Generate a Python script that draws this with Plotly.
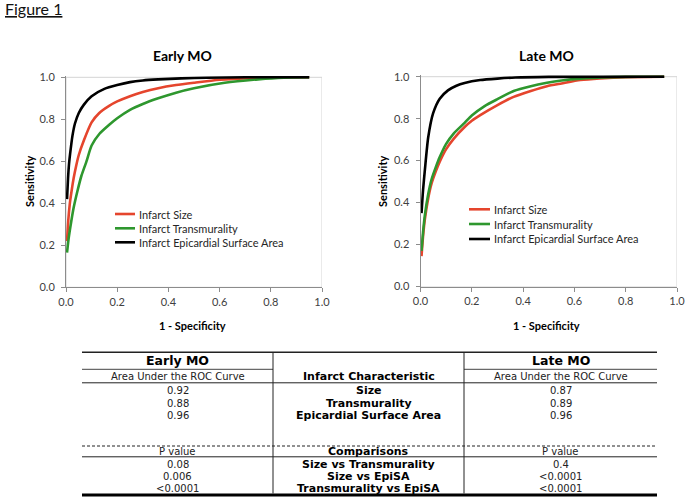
import plotly.graph_objects as go

W, H = 685, 499

# ---------------- data ----------------
series_names = ["Infarct Size", "Infarct Transmurality", "Infarct Epicardial Surface Area"]
series_colors = ["#E5452D", "#2E972E", "#000000"]

early_size_fpr = [0.004, 0.009, 0.015, 0.022, 0.03, 0.04, 0.05, 0.07, 0.1, 0.13, 0.17, 0.2, 0.25, 0.3, 0.36, 0.43, 0.5, 0.6, 0.75, 0.85, 0.95]
early_size_tpr = [0.22, 0.32, 0.40, 0.46, 0.52, 0.58, 0.63, 0.70, 0.785, 0.83, 0.865, 0.885, 0.91, 0.93, 0.948, 0.963, 0.974, 0.988, 0.997, 1.0, 1.0]

early_trans_fpr = [0.004, 0.01, 0.02, 0.03, 0.045, 0.06, 0.08, 0.1, 0.13, 0.17, 0.2, 0.25, 0.3, 0.36, 0.43, 0.5, 0.62, 0.75, 0.85, 0.95]
early_trans_tpr = [0.165, 0.23, 0.31, 0.38, 0.46, 0.53, 0.6, 0.675, 0.73, 0.775, 0.805, 0.845, 0.873, 0.90, 0.927, 0.948, 0.974, 0.99, 0.998, 1.0]

early_epi_fpr = [0.004, 0.008, 0.012, 0.016, 0.025, 0.035, 0.05, 0.07, 0.1, 0.15, 0.2, 0.25, 0.3, 0.36, 0.45, 0.55, 0.7, 0.95]
early_epi_tpr = [0.42, 0.52, 0.59, 0.635, 0.72, 0.78, 0.83, 0.87, 0.91, 0.945, 0.963, 0.977, 0.985, 0.99, 0.995, 0.998, 1.0, 1.0]

late_size_fpr = [0.004, 0.01, 0.017, 0.03, 0.043, 0.06, 0.075, 0.1, 0.13, 0.172, 0.2, 0.233, 0.3, 0.363, 0.43, 0.493, 0.55, 0.623, 0.7, 0.8, 0.95]
late_size_tpr = [0.145, 0.24, 0.32, 0.42, 0.49, 0.55, 0.595, 0.655, 0.705, 0.76, 0.79, 0.817, 0.865, 0.904, 0.932, 0.955, 0.968, 0.984, 0.992, 0.998, 1.0]

late_trans_fpr = [0.004, 0.01, 0.017, 0.03, 0.043, 0.06, 0.075, 0.1, 0.13, 0.172, 0.2, 0.25, 0.3, 0.363, 0.43, 0.493, 0.55, 0.623, 0.75, 0.85, 0.95]
late_trans_tpr = [0.17, 0.26, 0.34, 0.44, 0.51, 0.57, 0.617, 0.68, 0.73, 0.78, 0.815, 0.86, 0.893, 0.932, 0.955, 0.971, 0.982, 0.991, 0.998, 1.0, 1.0]

late_epi_fpr = [0.004, 0.01, 0.017, 0.03, 0.049, 0.075, 0.107, 0.14, 0.172, 0.233, 0.3, 0.37, 0.5, 0.95]
late_epi_tpr = [0.35, 0.46, 0.555, 0.71, 0.825, 0.895, 0.935, 0.957, 0.97, 0.984, 0.991, 0.996, 0.999, 1.0]

tick_vals = [0.0, 0.2, 0.4, 0.6, 0.8, 1.0]

# table content
table_headers = ["Early MO", "Late MO"]
auc_label = "Area Under the ROC Curve"
char_label = "Infarct Characteristic"
characteristics = ["Size", "Transmurality", "Epicardial Surface Area"]
early_auc = ["0.92", "0.88", "0.96"]
late_auc = ["0.87", "0.89", "0.96"]
p_label = "P value"
comp_label = "Comparisons"
comparisons = ["Size vs Transmurality", "Size vs EpiSA", "Transmurality vs EpiSA"]
early_p = ["0.08", "0.006", "<0.0001"]
late_p = ["0.4", "<0.0001", "<0.0001"]

# ---------------- helpers ----------------
def px(x):
    return x / W

def py(y):
    return 1 - y / H

LAT = "Lato, 'Open Sans', sans-serif"
DV = "'DejaVu Sans', Verdana, sans-serif"

fig = go.Figure()

early = [(early_size_fpr, early_size_tpr), (early_trans_fpr, early_trans_tpr), (early_epi_fpr, early_epi_tpr)]
late = [(late_size_fpr, late_size_tpr), (late_trans_fpr, late_trans_tpr), (late_epi_fpr, late_epi_tpr)]

for (xs, ys), name, col in zip(early, series_names, series_colors):
    fig.add_trace(go.Scatter(x=xs, y=ys, mode="lines", name=name, xaxis="x", yaxis="y",
                             line=dict(color=col, width=2.6, shape="spline", smoothing=0.6),
                             showlegend=False, hoverinfo="skip"))
for (xs, ys), name, col in zip(late, series_names, series_colors):
    fig.add_trace(go.Scatter(x=xs, y=ys, mode="lines", name=name, xaxis="x2", yaxis="y2",
                             line=dict(color=col, width=2.6, shape="spline", smoothing=0.6),
                             showlegend=False, hoverinfo="skip"))

YTOP = 1.008

def axis_common():
    return dict(range=[0, 1], tickvals=tick_vals, tickformat=".1f", showline=True, linecolor="#8c8c8c",
                linewidth=1, ticks="outside", ticklen=4, tickcolor="#8c8c8c", showgrid=False,
                zeroline=False, tickfont=dict(family=LAT, size=11, color="#404040"), fixedrange=True,
                automargin=False, ticklabeloverflow="allow")

# early: y=0 at 287.3px, y=1 at 77.3px ; late: y=0 at 286.5, y=1 at 76.7
e_y0, e_y1 = 287.3, 77.3
l_y0, l_y1 = 286.5, 76.7
e_top = e_y0 - (e_y0 - e_y1) * YTOP
l_top = l_y0 - (l_y0 - l_y1) * YTOP

xa1 = axis_common(); xa1.update(domain=[px(66), px(322)], anchor="y")
ya1 = axis_common(); ya1.update(domain=[py(e_y0), py(e_top)], anchor="x", range=[0, YTOP], ticklabelstandoff=4)
xa2 = axis_common(); xa2.update(domain=[px(420.5), px(677)], anchor="y2")
ya2 = axis_common(); ya2.update(domain=[py(l_y0), py(l_top)], anchor="x2", range=[0, YTOP], ticklabelstandoff=4)

shapes = []
annotations = []

# plot-area borders (light gray), in data coords of each subplot
for xr, yr in [("x", "y"), ("x2", "y2")]:
    shapes.append(dict(type="rect", xref=xr, yref=yr, x0=0, x1=1, y0=0, y1=1,
                       line=dict(color="#d4d4d4", width=1), layer="below"))

# chart titles and axis titles
def ann(x, y, text, size, family=LAT, bold=False, color="#000", xanchor="center", angle=0):
    t = f"<b>{text}</b>" if bold else text
    annotations.append(dict(x=px(x), y=py(y), xref="paper", yref="paper", text=t, showarrow=False,
                            xanchor=xanchor, yanchor="middle", textangle=angle,
                            font=dict(family=family, size=size, color=color)))

ann(3, 8, "<u>Figure 1</u>", 16, xanchor="left", color="#111")
ann(183, 55, "Early MO", 14, bold=True)
ann(546, 55, "Late MO", 14, bold=True)
ann(192, 325, "1 - Specificity", 11, bold=True)
ann(546, 325, "1 - Specificity", 11, bold=True)
ann(30, 182, "Sensitivity", 11, bold=True, angle=-90)
ann(383, 182, "Sensitivity", 11, bold=True, angle=-90)

# legends (line samples + text)
for (lx0, lx1, rows) in [(115, 135, [214, 228.3, 242.3]), (469, 490, [209.3, 224, 239])]:
    for name, col, ry in zip(series_names, series_colors, rows):
        shapes.append(dict(type="line", xref="paper", yref="paper", x0=px(lx0), x1=px(lx1),
                           y0=py(ry), y1=py(ry), line=dict(color=col, width=2.6)))
        ann(lx1 + 2, ry, name, 11, xanchor="left", color="#262626")

# ---------------- table ----------------
TL, TR = 82, 657
V1, V2 = 273, 464
c_left, c_mid, c_right = (TL + V1) / 2, (V1 + V2) / 2, (V2 + TR) / 2

def hline(x0, x1, y, color="#000", width=1, dash=None):
    ln = dict(color=color, width=width)
    if dash:
        ln["dash"] = dash
    shapes.append(dict(type="line", xref="paper", yref="paper", x0=px(x0), x1=px(x1),
                       y0=py(y), y1=py(y), line=ln))

def vline(x, y0, y1, color="#000", width=1):
    shapes.append(dict(type="line", xref="paper", yref="paper", x0=px(x), x1=px(x),
                       y0=py(y0), y1=py(y1), line=dict(color=color, width=width)))

hline(TL, TR, 352.3, color="#222", width=1.5)
hline(TL, V1, 369.3, color="#444", width=1)
hline(V2, TR, 369.3, color="#444", width=1)
hline(TL, TR, 382.8, color="#222", width=1)
hline(TL, TR, 446, color="#222", width=1, dash="3px,2px")
hline(TL, TR, 456.8, color="#222", width=1)
hline(TL, TR, 495, color="#000", width=3.2)
vline(V1, 352.3, 493.5, color="#222")
vline(V2, 352.3, 493.5, color="#222")

BOLD_SZ = 11
ann(c_left, 360, table_headers[0], 12.5, family=DV, bold=True)
ann(c_right, 360, table_headers[1], 12.5, family=DV, bold=True)
ann(c_left, 376, auc_label, 10, family=DV, color="#222")
ann(c_mid, 376, char_label, BOLD_SZ, family=DV, bold=True)
ann(c_right, 376, auc_label, 10, family=DV, color="#222")

rows_auc = [390.5, 403, 415.5]
for ry, ea, ch, la in zip(rows_auc, early_auc, characteristics, late_auc):
    ann(c_left, ry, ea, 10, family=DV, color="#222")
    ann(c_mid, ry, ch, BOLD_SZ, family=DV, bold=True)
    ann(c_right, ry, la, 10, family=DV, color="#222")

ann(c_left, 451.7, p_label, 10, family=DV, color="#222")
ann(c_mid, 451.7, comp_label, BOLD_SZ, family=DV, bold=True)
ann(c_right, 451.7, p_label, 10, family=DV, color="#222")

rows_p = [464.5, 476.7, 488.5]
for ry, ep, cp, lp in zip(rows_p, early_p, comparisons, late_p):
    ann(c_left, ry, ep, 10, family=DV, color="#222")
    ann(c_mid, ry, cp, BOLD_SZ, family=DV, bold=True)
    ann(c_right, ry, lp, 10, family=DV, color="#222")

fig.update_layout(
    width=W, height=H, margin=dict(l=0, r=0, t=0, b=0, autoexpand=False),
    paper_bgcolor="white", plot_bgcolor="white",
    xaxis=xa1, yaxis=ya1, xaxis2=xa2, yaxis2=ya2,
    shapes=shapes, annotations=annotations, showlegend=False,
)

fig.write_html("out.html", config={"displayModeBar": False, "staticPlot": True},
               post_script="document.body.style.margin='0';document.body.style.overflow='hidden';")
